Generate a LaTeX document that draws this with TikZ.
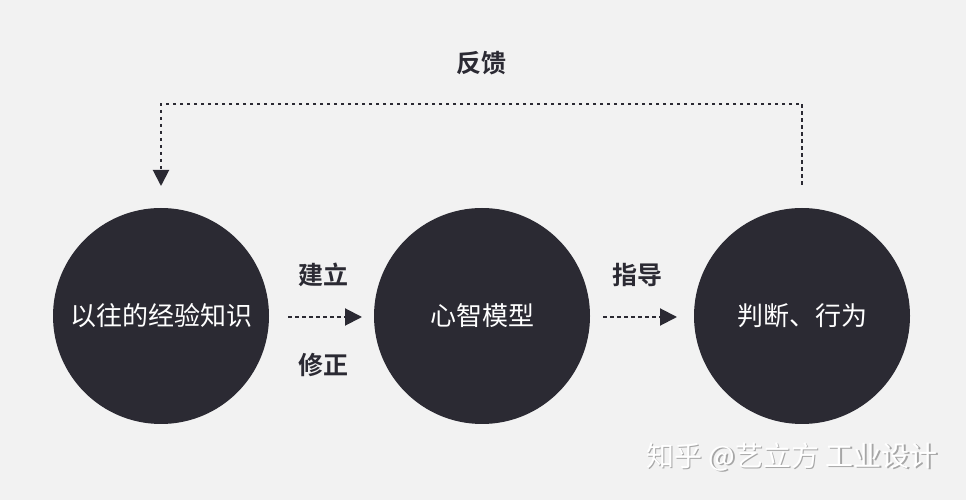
\documentclass[tikz,border=0pt]{standalone}
\usepackage{fontspec}
\newfontfamily\cjk{Noto Sans CJK SC}
\newfontfamily\cjkb{Noto Sans CJK SC Bold}
\usetikzlibrary{arrows.meta}
\definecolor{bg}{HTML}{F2F2F2}
\definecolor{ink}{HTML}{2B2A33}
\tikzset{
  x=1pt,y=1pt,
  bubble/.style={circle,fill=ink,minimum size=216pt,inner sep=0pt,text=white,font=\cjk\fontsize{26}{30}\selectfont},
  lbl/.style={text=ink,font=\cjkb\fontsize{25}{29}\selectfont,inner sep=0pt},
  flow/.style={draw=ink,line width=2pt,dash pattern=on 3.5pt off 3.5pt,-{Triangle[length=17pt,width=17pt]}},
  fb/.style={draw=ink,line width=2pt,dash pattern=on 3.5pt off 3.5pt},
  wm/.style={text=white,font=\cjk\fontsize{28}{32}\selectfont,inner sep=0pt}
}
\begin{document}
\begin{tikzpicture}
\fill[bg] (0,0) rectangle (966,500);
\useasboundingbox (0,0) rectangle (966,500);
\node[bubble] (a) at (161,184) {以往的经验知识};
\node[bubble] (b) at (482,184) {心智模型};
\node[bubble] (c) at (802,184) {判断、行为};
\coordinate (a1) at (288,183);
\coordinate (a2) at (362,183);
\coordinate (b1) at (603,183);
\coordinate (b2) at (677,183);
\draw[flow] (a1) -- (a2);
\draw[flow] (b1) -- (b2);
\node[lbl] (l1) at (323,225) {建立};
\node[lbl] (l2) at (323,135) {修正};
\node[lbl] (l3) at (637,225) {指导};
\coordinate (f0) at (802,315);
\coordinate (f1) at (802,396);
\coordinate (f2) at (161,396);
\coordinate (f3) at (161,314);
\draw[fb,-{Triangle[length=16pt,width=16pt]}] (f0) -- (f1) -- (f2) -- (f3);
\node[lbl] (fbl) at (481,437) {反馈};
\node[wm,text=black!35] (wms) at (793.5,41.5) {知乎 @艺立方 工业设计};
\node[wm] (wmt) at (792,43) {知乎 @艺立方 工业设计};
\end{tikzpicture}
\end{document}
